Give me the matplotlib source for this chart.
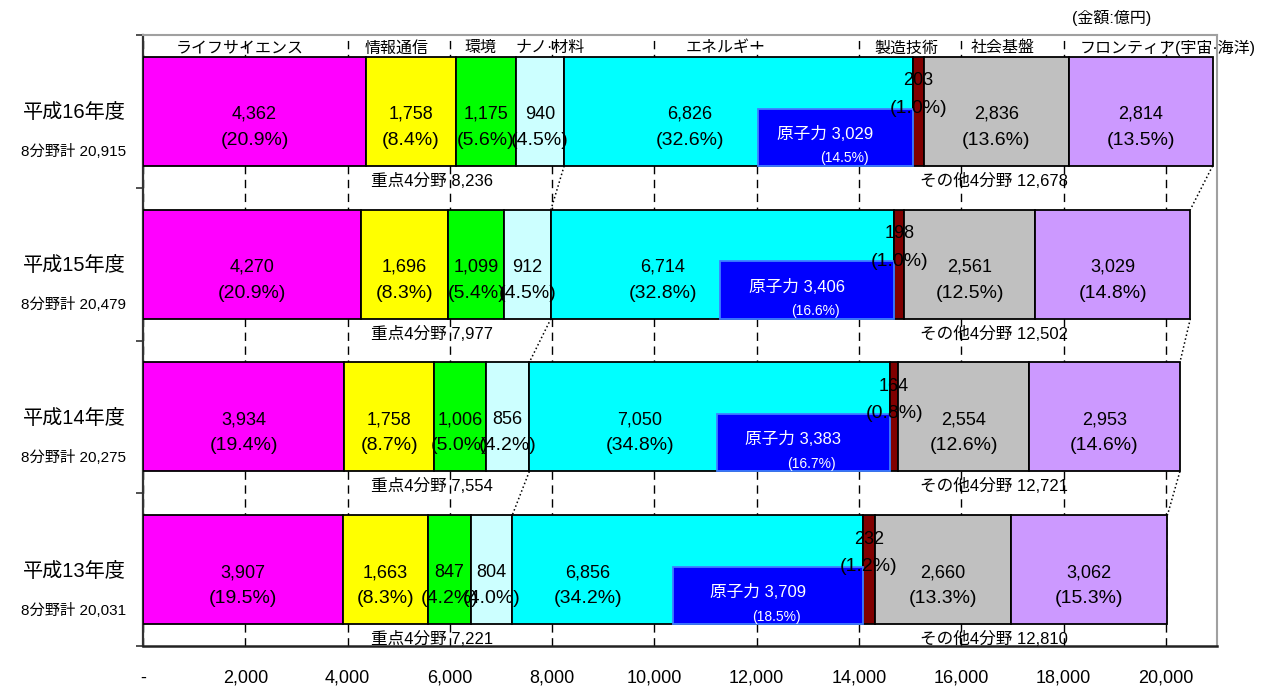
import matplotlib
matplotlib.use("Agg")
import matplotlib.pyplot as plt
from matplotlib.patches import Rectangle
from matplotlib.ticker import FuncFormatter

plt.rcParams['font.family'] = ['Liberation Sans', 'Noto Sans CJK JP']

# data (億円), rows top -> bottom
years = ["平成16年度", "平成15年度", "平成14年度", "平成13年度"]
totals = [20915, 20479, 20275, 20031]
key4 = [8236, 7977, 7554, 7221]
other4 = [12678, 12502, 12721, 12810]

fields = ["ライフサイエンス", "情報通信", "環境", "ナノ·材料",
          "エネルギー", "製造技術", "社会基盤", "フロンティア(宇宙·海洋)"]
life = [4362, 4270, 3934, 3907]
info = [1758, 1696, 1758, 1663]
env = [1175, 1099, 1006, 847]
nano = [940, 912, 856, 804]
energy = [6826, 6714, 7050, 6856]
manuf = [203, 198, 164, 232]
infra = [2836, 2561, 2554, 2660]
frontier = [2814, 3029, 2953, 3062]

life_pct = [20.9, 20.9, 19.4, 19.5]
info_pct = [8.4, 8.3, 8.7, 8.3]
env_pct = [5.6, 5.4, 5.0, 4.2]
nano_pct = [4.5, 4.5, 4.2, 4.0]
energy_pct = [32.6, 32.8, 34.8, 34.2]
manuf_pct = [1.0, 1.0, 0.8, 1.2]
infra_pct = [13.6, 12.5, 12.6, 13.3]
frontier_pct = [13.5, 14.8, 14.6, 15.3]

nuclear = [3029, 3406, 3383, 3709]
nuclear_pct = [14.5, 16.6, 16.7, 18.5]

series = [life, info, env, nano, energy, manuf, infra, frontier]
pcts = [life_pct, info_pct, env_pct, nano_pct, energy_pct, manuf_pct, infra_pct, frontier_pct]
colors = ["#FF00FF", "#FFFF00", "#00FF00", "#CCFFFF", "#00FFFF", "#800000", "#C0C0C0", "#CC99FF"]

# label / header positions (x in 億円)
header_x = [1900, 4950, 6600, 7950, 11400, 14930, 16800, 20030]
energy_lbl_x = [10690, 10160, 9710, 8700]

fig = plt.figure(figsize=(12.69, 6.86), dpi=100)
ax = fig.add_axes([143 / 1269, 1 - 646 / 686, (1217 - 143) / 1269, (646 - 35) / 686])

rows = list(range(len(years)))
h = 0.714
left = [0] * len(rows)
for vals, pc, col in zip(series, pcts, colors):
    ax.barh(rows, vals, left=left, height=h, color=col, edgecolor="black",
            linewidth=1.3, zorder=3)
    left = [l + v for l, v in zip(left, vals)]

ends4 = [life[i] + info[i] + env[i] + nano[i] for i in rows]
ends = left

for i in rows:
    start = 0
    for k, (vals, pc) in enumerate(zip(series, pcts)):
        v = vals[i]
        xc = start + v / 2
        if k == 4:
            xc = energy_lbl_x[i]
        if k == 5:
            ax.text(xc, i - 0.2, f"{v:,}", ha="center", va="center", fontsize=13, zorder=6)
            ax.text(xc, i - 0.02, f"({pc[i]:.1f}%)", ha="center", va="center", fontsize=14, zorder=6)
        else:
            ax.text(xc, i + 0.02, f"{v:,}", ha="center", va="center", fontsize=13, zorder=6)
            ax.text(xc, i + 0.19, f"({pc[i]:.1f}%)", ha="center", va="center", fontsize=14, zorder=6)
        start += v

    # nuclear box inside energy
    e_end = ends4[i] + energy[i]
    bh = 0.375
    ax.add_patch(Rectangle((e_end - nuclear[i], i + h / 2 - bh), nuclear[i], bh,
                           facecolor="#0000FF", edgecolor="#3F7FFF", linewidth=1.3, zorder=4))
    nc = e_end - nuclear[i] / 2
    ax.text(nc - 200, i + h / 2 - bh + 0.165, f"原子力 {nuclear[i]:,}", color="white",
            ha="center", va="center", fontsize=12, zorder=6)
    ax.text(nc + 160, i + h / 2 - bh + 0.325, f"({nuclear_pct[i]:.1f}%)", color="white",
            ha="center", va="center", fontsize=10, zorder=6)

    # row labels
    ax.text(-330, i + 0.01, years[i], ha="right", va="center", fontsize=14.5, clip_on=False)
    ax.text(-330, i + 0.265, f"8分野計 {totals[i]:,}", ha="right", va="center", fontsize=11,
            clip_on=False)
    ax.text(4450, i + 0.455, f"重点4分野 {key4[i]:,}", ha="left", va="center", fontsize=12, zorder=6)
    ax.text(15190, i + 0.455, f"その他4分野 {other4[i]:,}", ha="left", va="center", fontsize=12,
            zorder=6)

# dotted connectors between bars
for i in rows[:-1]:
    ax.plot([ends4[i], ends4[i + 1]], [i + h / 2, i + 1 - h / 2], color="black",
            linestyle=":", linewidth=1.1, zorder=5)
    ax.plot([ends[i], ends[i + 1]], [i + h / 2, i + 1 - h / 2], color="black",
            linestyle=":", linewidth=1.1, zorder=5)

# field headers
for name, x in zip(fields, header_x):
    ax.text(x, -0.416, name, ha="center", va="center", fontsize=11.5, zorder=6, clip_on=False)

fig.text(1112 / 1269, 1 - 18 / 686, "(金額:億円)", ha="center", va="center", fontsize=11.5)

ax.set_xlim(0, 21000)
ax.set_ylim(3.5, -0.5)
ax.set_xticks(range(0, 20001, 2000))
ax.xaxis.set_major_formatter(FuncFormatter(lambda v, p: "-" if v == 0 else f"{int(v):,}"))
ax.tick_params(axis="x", length=0, pad=17, labelsize=13)
ax.set_yticks([-0.5, 0.5, 1.5, 2.5, 3.5])
ax.set_yticklabels([])
ax.tick_params(axis="y", length=5, width=1.2, color="#333333")
ax.grid(axis="x", color="black", linestyle=(0, (6, 4)), linewidth=1, zorder=0)
ax.set_axisbelow(True)

ax.spines["left"].set_color("#333333")
ax.spines["left"].set_linewidth(1.6)
ax.spines["bottom"].set_color("#222222")
ax.spines["bottom"].set_linewidth(1.8)
ax.spines["top"].set_color("#A0A0A0")
ax.spines["top"].set_linewidth(1.5)
ax.spines["right"].set_color("#A0A0A0")
ax.spines["right"].set_linewidth(1.5)

fig.savefig("out.png", dpi=100)
